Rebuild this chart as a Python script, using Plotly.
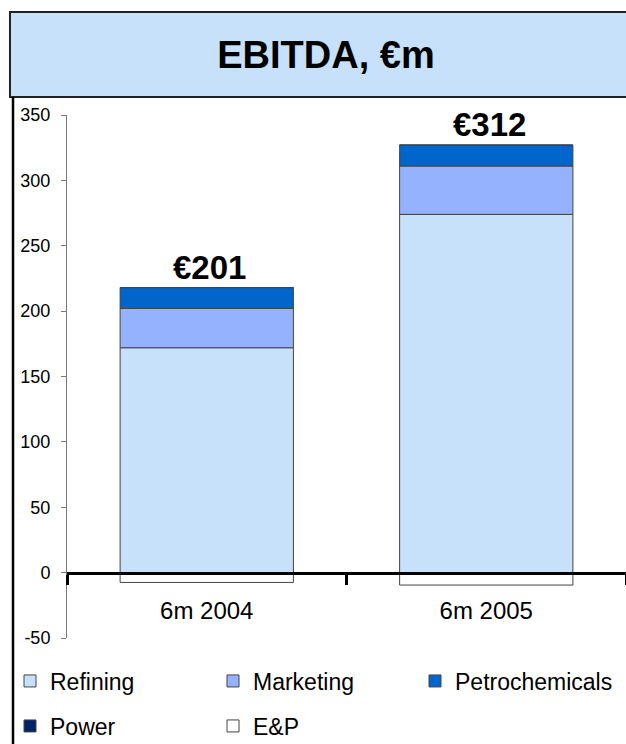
import plotly.graph_objects as go

# EBITDA by segment, EUR m
categories = ["6m 2004", "6m 2005"]
refining = [172, 274]
marketing = [30, 37]
petrochemicals = [16, 16]
power = [0, 0]
e_and_p = [-7.5, -9.5]
totals = [201, 312]
total_labels = ["€201", "€312"]
y_ticks = [-50, 0, 50, 100, 150, 200, 250, 300, 350]
y_tick_labels = ["-50", "0", "50", "100", "150", "200", "250", "300", "350"]

# name, values, fill colour, legend slot (column x, row y in px)
series = [
    ("Refining", refining, "#C7E1FB", (10, 681)),
    ("Marketing", marketing, "#94B2FF", (213, 681)),
    ("Petrochemicals", petrochemicals, "#0066CC", (415, 681)),
    ("Power", power, "#002266", (10, 726)),
    ("E&P", e_and_p, "#FFFFFF", (213, 726)),
]

FONT = "Arial, Liberation Sans, sans-serif"
W, H = 626, 744

fig = go.Figure()
legend_layouts = {}
for i, (name, vals, color, (lx, ly)) in enumerate(series):
    key = "legend" if i == 0 else f"legend{i + 1}"
    fig.add_trace(go.Bar(
        x=categories, y=vals, name=name, width=0.62,
        marker=dict(color=color, line=dict(color="#444444", width=1)),
        legend=key, showlegend=True,
    ))
    legend_layouts[key] = dict(
        orientation="h", xref="container", yref="container",
        x=lx / W, xanchor="left", y=1 - ly / H, yanchor="middle",
        font=dict(family=FONT, size=23, color="black"),
        bgcolor="rgba(0,0,0,0)",
    )

# value labels above the positive stack
pos_top = [sum(v for v in col if v > 0) for col in zip(refining, marketing, petrochemicals, power)]
for cat, top, txt in zip(categories, pos_top, total_labels):
    fig.add_annotation(
        x=cat, y=top, text=txt, showarrow=False, yanchor="bottom",
        xshift=3, yshift=0,
        font=dict(family=FONT, size=33, color="black", weight="bold"),
    )

# header band and left frame line
fig.add_shape(type="rect", xref="paper", yref="paper",
              x0=-0.102, x1=1.05, y0=1.0344, y1=1.197,
              fillcolor="#C7E1FB", line=dict(color="#222222", width=2), layer="below")
fig.add_shape(type="line", xref="paper", yref="paper",
              x0=-0.0966, x1=-0.0966, y0=1.0344, y1=-0.203,
              line=dict(color="black", width=2.5))

fig.update_layout(
    width=W, height=H,
    margin=dict(l=67, r=0, t=115, b=106, autoexpand=False),
    paper_bgcolor="white", plot_bgcolor="white",
    barmode="relative", showlegend=True,
    font=dict(family=FONT, color="black"),
    title=dict(text="<b>EBITDA, €m</b>", x=326 / W, xanchor="center",
               y=1 - 55 / H, yanchor="middle",
               font=dict(family=FONT, size=38, color="black")),
    xaxis=dict(
        type="category", range=[-0.5, 1.5],
        anchor="free", position=0.125,
        showline=True, linecolor="black", linewidth=3,
        ticks="outside", tickson="boundaries", ticklen=10, tickwidth=3, tickcolor="black",
        ticklabelstandoff=16,
        tickfont=dict(family=FONT, size=24, color="black"),
        showgrid=False, zeroline=False,
    ),
    yaxis=dict(
        range=[-50, 350], tickmode="array", tickvals=y_ticks, ticktext=y_tick_labels,
        showline=True, linecolor="#777777", linewidth=1,
        ticks="outside", ticklen=5, tickcolor="#777777",
        ticklabelstandoff=7,
        tickfont=dict(family=FONT, size=18, color="black"),
        showgrid=False, zeroline=False,
    ),
    **legend_layouts,
)

fig.write_html("out.html")
